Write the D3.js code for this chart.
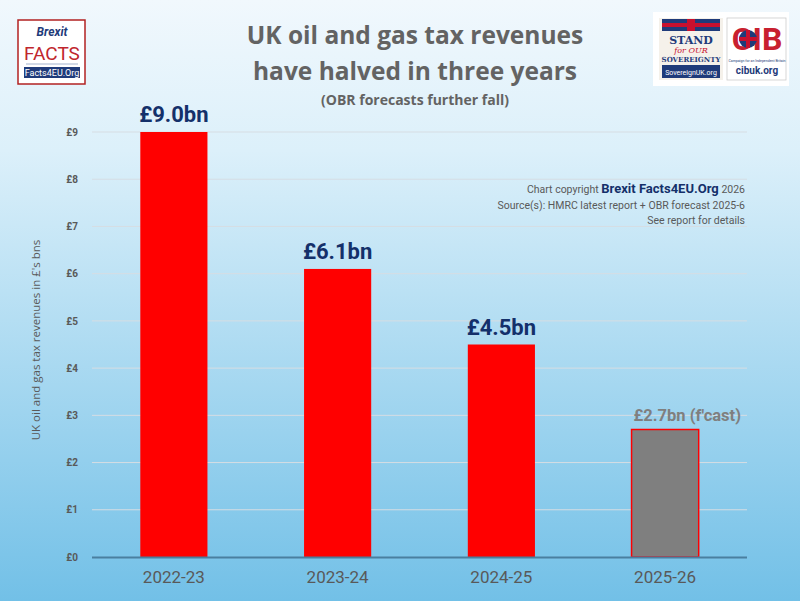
<!DOCTYPE html>
<html>
<head>
<meta charset="utf-8">
<script src="https://cdn.jsdelivr.net/npm/d3@7"></script>
<style>
body { margin: 0; padding: 0; overflow: hidden; }
</style>
</head>
<body>
<div id="chart"></div>
<script>
const width = 800;
const height = 601;

// data
const years = ["2022-23", "2023-24", "2024-25", "2025-26"];
const revenues = [9.0, 6.1, 4.5, 2.7];
const valueLabels = ["£9.0bn", "£6.1bn", "£4.5bn", "£2.7bn (f'cast)"];
const isForecast = [false, false, false, true];
const yTicks = [0, 1, 2, 3, 4, 5, 6, 7, 8, 9];

const margin = { top: 132, bottom: 44, left: 92, right: 53 };

const svg = d3.select("#chart")
	.append("svg")
	.attr("width", width)
	.attr("height", height);

const defs = svg.append("defs");
const grad = defs.append("linearGradient")
	.attr("id", "bg")
	.attr("x1", 0).attr("y1", 0).attr("x2", 0).attr("y2", 1);
grad.append("stop").attr("offset", "0%").attr("stop-color", "#f1f8fd");
grad.append("stop").attr("offset", "25%").attr("stop-color", "#dcf0fa");
grad.append("stop").attr("offset", "100%").attr("stop-color", "#72c0e7");

svg.append("rect")
	.attr("width", width)
	.attr("height", height)
	.attr("fill", "url(#bg)");

const x = d3.scaleBand()
	.domain(years)
	.range([margin.left, width - margin.right])
	.paddingInner(0.59)
	.paddingOuter(0.295);

const y = d3.scaleLinear()
	.domain([0, 9])
	.range([height - margin.bottom, margin.top]);

// gridlines
svg.append("g")
	.selectAll("line")
	.data(yTicks.filter(d => d > 0))
	.join("line")
	.attr("x1", margin.left)
	.attr("x2", width - margin.right)
	.attr("y1", d => y(d))
	.attr("y2", d => y(d))
	.attr("stroke", "#d6dde3")
	.attr("stroke-width", 1);

// y axis labels
const yAxis = d3.axisLeft(y)
	.tickValues(yTicks)
	.tickFormat(d => "£" + d)
	.tickSize(0)
	.tickPadding(14);

const yg = svg.append("g")
	.attr("transform", `translate(${margin.left},0)`)
	.call(yAxis);
yg.select(".domain").remove();
yg.selectAll("text")
	.style("font-family", "Roboto, sans-serif")
	.style("font-size", "10px")
	.style("font-weight", "bold")
	.attr("fill", "#595959");

// bars
svg.append("g")
	.selectAll("rect")
	.data(years)
	.join("rect")
	.attr("x", d => x(d))
	.attr("width", x.bandwidth())
	.attr("y", (d, i) => y(revenues[i]))
	.attr("height", (d, i) => y(0) - y(revenues[i]))
	.attr("fill", (d, i) => isForecast[i] ? "#7f7f7f" : "#ff0000")
	.attr("stroke", (d, i) => isForecast[i] ? "#ff0000" : "none")
	.attr("stroke-width", 1.5);

// baseline
svg.append("line")
	.attr("x1", margin.left)
	.attr("x2", width - margin.right)
	.attr("y1", y(0) + 0.5)
	.attr("y2", y(0) + 0.5)
	.attr("stroke", "#4a7f9f")
	.attr("stroke-width", 2);

// value labels
svg.append("g")
	.selectAll("text")
	.data(years)
	.join("text")
	.attr("x", (d, i) => isForecast[i] ? x(d) + 2 : x(d) + x.bandwidth() / 2)
	.attr("y", (d, i) => y(revenues[i]) - (isForecast[i] ? 9 : 10))
	.attr("text-anchor", (d, i) => isForecast[i] ? "start" : "middle")
	.style("font-family", "Roboto, sans-serif")
	.style("font-weight", "bold")
	.style("font-size", (d, i) => isForecast[i] ? "16.5px" : "22px")
	.attr("fill", (d, i) => isForecast[i] ? "#7f7f7f" : "#14306a")
	.text((d, i) => valueLabels[i]);

// x axis labels
const xAxis = d3.axisBottom(x).tickSize(0).tickPadding(14);
const xg = svg.append("g")
	.attr("transform", `translate(0,${y(0)})`)
	.call(xAxis);
xg.select(".domain").remove();
xg.selectAll("text")
	.style("font-family", "Roboto, sans-serif")
	.style("font-size", "17px")
	.attr("fill", "#595959");

// y axis title
svg.append("text")
	.attr("transform", "translate(40,340) rotate(-90)")
	.attr("text-anchor", "middle")
	.style("font-family", "'Open Sans', sans-serif")
	.style("font-size", "11.5px")
	.attr("fill", "#595959")
	.text("UK oil and gas tax revenues in £'s bns");

// title
const title = svg.append("g")
	.style("font-family", "'Open Sans', sans-serif")
	.style("font-weight", "bold")
	.attr("fill", "#636363")
	.attr("text-anchor", "middle");
title.append("text").attr("x", 415).attr("y", 44).style("font-size", "24.5px").text("UK oil and gas tax revenues");
title.append("text").attr("x", 415).attr("y", 80).style("font-size", "24.5px").text("have halved in three years");
title.append("text").attr("x", 415).attr("y", 105).style("font-size", "14px").text("(OBR forecasts further fall)");

// copyright
const cr = svg.append("g")
	.style("font-family", "Roboto, sans-serif")
	.style("font-size", "10.5px")
	.attr("fill", "#595959")
	.attr("text-anchor", "end");
const line1 = cr.append("text").attr("x", 745).attr("y", 193);
line1.append("tspan").text("Chart copyright ");
line1.append("tspan").style("font-weight", "bold").style("font-size", "13px").attr("fill", "#14306a").text("Brexit Facts4EU.Org");
line1.append("tspan").text(" 2026");
cr.append("text").attr("x", 745).attr("y", 209).text("Source(s): HMRC latest report + OBR forecast 2025-6");
cr.append("text").attr("x", 745).attr("y", 224).text("See report for details");

// left logo
const lg = svg.append("g").attr("transform", "translate(18,20)");
lg.append("rect").attr("width", 67).attr("height", 64).attr("fill", "#fff").attr("stroke", "#b22222").attr("stroke-width", 1.5);
lg.append("text").attr("x", 34).attr("y", 16).attr("text-anchor", "middle")
	.style("font-family", "Roboto, sans-serif").style("font-style", "italic").style("font-weight", "bold")
	.style("font-size", "12px").attr("fill", "#1f3b7a").text("Brexit");
lg.append("text").attr("x", 34).attr("y", 40).attr("text-anchor", "middle")
	.style("font-family", "Roboto, sans-serif").style("font-size", "19px").attr("fill", "#c0262d").text("FACTS");
lg.append("line").attr("x1", 8).attr("x2", 60).attr("y1", 44).attr("y2", 44).attr("stroke", "#8aa0c0").attr("stroke-width", 0.8);
lg.append("rect").attr("x", 6).attr("y", 47).attr("width", 56).attr("height", 11).attr("fill", "#1f3b7a");
lg.append("text").attr("x", 34).attr("y", 56).attr("text-anchor", "middle")
	.style("font-family", "Roboto, sans-serif").style("font-size", "9px").attr("fill", "#fff").text("Facts4EU.Org");

// right logos
const rg = svg.append("g").attr("transform", "translate(653,12)");
rg.append("rect").attr("width", 136).attr("height", 74).attr("fill", "#fff");
rg.append("rect").attr("x", 6).attr("y", 6).attr("width", 64).attr("height", 62).attr("fill", "#f5f1ea");
rg.append("rect").attr("x", 9).attr("y", 7).attr("width", 58).attr("height", 12).attr("fill", "#1f3b7a");
rg.append("rect").attr("x", 34).attr("y", 7).attr("width", 8).attr("height", 12).attr("fill", "#c8102e");
rg.append("rect").attr("x", 9).attr("y", 11).attr("width", 58).attr("height", 4).attr("fill", "#c8102e");
rg.append("text").attr("x", 38).attr("y", 32).attr("text-anchor", "middle")
	.style("font-family", "'DejaVu Serif', serif").style("font-weight", "bold").style("font-size", "11px").attr("fill", "#1f3b7a").text("STAND");
rg.append("text").attr("x", 38).attr("y", 41).attr("text-anchor", "middle")
	.style("font-family", "'DejaVu Serif', serif").style("font-style", "italic").style("font-size", "8px").attr("fill", "#c8102e").text("for OUR");
rg.append("text").attr("x", 38).attr("y", 50).attr("text-anchor", "middle")
	.style("font-family", "'DejaVu Serif', serif").style("font-weight", "bold").style("font-size", "7px").attr("fill", "#1f3b7a").text("SOVEREIGNTY");
rg.append("rect").attr("x", 9).attr("y", 53).attr("width", 58).attr("height", 13).attr("fill", "#1f3b7a");
rg.append("text").attr("x", 38).attr("y", 63).attr("text-anchor", "middle")
	.style("font-family", "Roboto, sans-serif").style("font-size", "7px").attr("fill", "#fff").text("SovereignUK.org");
rg.append("rect").attr("x", 74).attr("y", 6).attr("width", 59).attr("height", 62).attr("fill", "#fff").attr("stroke", "#ccc").attr("stroke-width", 0.8);
rg.append("text").attr("x", 104).attr("y", 38).attr("text-anchor", "middle")
	.style("font-family", "Roboto, sans-serif").style("font-weight", "bold").style("font-size", "32px").attr("fill", "#c8202f").text("CIB");
rg.append("circle").attr("cx", 95).attr("cy", 27).attr("r", 9).attr("fill", "#1f3b7a");
rg.append("rect").attr("x", 86).attr("y", 25).attr("width", 18).attr("height", 4).attr("fill", "#c8102e");
rg.append("rect").attr("x", 93).attr("y", 18).attr("width", 4).attr("height", 18).attr("fill", "#c8102e");
rg.append("text").attr("x", 104).attr("y", 50).attr("text-anchor", "middle")
	.style("font-family", "Roboto, sans-serif").style("font-size", "3.5px").attr("fill", "#1f3b7a").text("Campaign for an Independent Britain");
rg.append("text").attr("x", 104).attr("y", 62).attr("text-anchor", "middle")
	.style("font-family", "Roboto, sans-serif").style("font-weight", "bold").style("font-size", "10px").attr("fill", "#1f3b7a").text("cibuk.org");
</script>
</body>
</html>
